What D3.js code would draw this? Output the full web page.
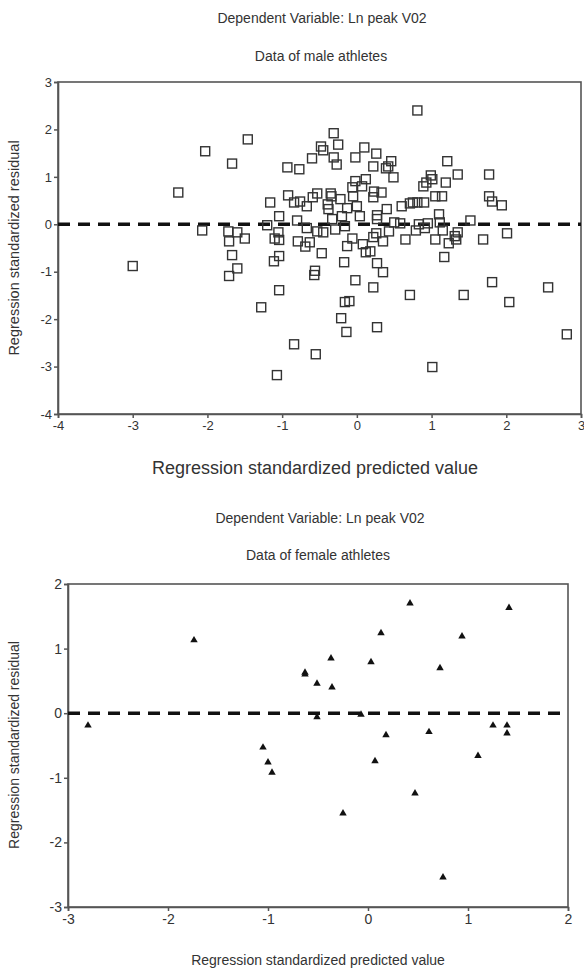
<!DOCTYPE html>
<html><head><meta charset="utf-8">
<script src="https://cdn.jsdelivr.net/npm/d3@7"></script>
<style>body{margin:0;background:#fff}svg{display:block}text{font-family:"Liberation Sans",Arial,sans-serif;fill:#333}</style>
</head><body>
<svg id="c" width="584" height="972"></svg>
<script>
// ---- Data ----
const titleLine1 = "Dependent Variable: Ln peak V02";
const maleTitle = "Data of male athletes";
const femaleTitle = "Data of female athletes";
const xLabel = "Regression standardized predicted value";
const yLabel = "Regression standardized residual";

const maleTicksX = [-4,-3,-2,-1,0,1,2,3];
const maleTicksY = [-4,-3,-2,-1,0,1,2,3];
const femaleTicksX = [-3,-2,-1,0,1,2];
const femaleTicksY = [-3,-2,-1,0,1,2];

const malePredicted = [-3.00,-2.39,-2.03,-2.07,-1.46,-1.67,-0.31,-0.25,-0.48,-0.45,0.10,0.26,-0.60,-0.31,-0.27,-0.02,0.22,-0.93,-0.77,-0.02,
 0.12,-0.06,0.07,-0.92,-1.16,-0.53,-0.35,-0.34,-0.59,-0.76,-0.84,-0.67,-0.39,-0.38,-0.22,-0.05,0.00,-0.13,0.22,0.27,
 0.04,-0.20,-0.33,-1.04,-0.80,-1.20,-1.05,-1.72,-1.60,-1.71,-1.50,-1.10,-1.04,-0.79,-0.67,-0.63,-0.53,-0.45,-0.29,-0.16,
 -0.06,-0.13,0.08,0.22,0.27,-1.67,-1.60,-1.71,-1.04,-1.11,-1.04,-1.28,-0.84,-0.55,-1.07,-0.69,-0.47,-0.56,-0.57,-0.17,
 -0.02,-0.16,-0.10,-0.21,-0.14,0.12,0.27,0.22,0.27,0.18,0.35,0.71,1.17,1.01,1.43,1.81,2.04,2.56,2.81,0.35,
 0.65,1.05,1.23,1.33,1.69,0.81,0.46,0.39,0.42,0.49,1.21,1.35,1.77,0.99,1.01,0.93,0.89,1.19,1.05,1.14,
 0.75,0.81,0.90,0.71,0.60,1.77,1.81,1.94,1.10,1.52,0.40,0.33,0.23,0.50,0.58,0.83,0.95,1.11,0.26,0.43,
 0.79,0.91,1.15,1.31,1.35,2.01];
const maleResidual = [-0.88,0.67,1.54,-0.13,1.79,1.28,1.92,1.68,1.64,1.56,1.62,1.49,1.39,1.41,1.26,1.41,1.22,1.20,1.16,0.91,
 0.95,0.78,0.80,0.61,0.46,0.65,0.65,0.59,0.57,0.48,0.46,0.38,0.42,0.32,0.53,0.59,0.38,0.34,0.57,0.19,
 0.17,0.17,0.11,0.17,0.08,-0.02,-0.17,-0.15,-0.17,-0.36,-0.30,-0.30,-0.33,-0.36,-0.08,-0.38,-0.15,-0.17,-0.11,-0.04,
 -0.30,-0.46,-0.42,-0.27,0.11,-0.65,-0.93,-1.09,-0.67,-0.78,-1.39,-1.75,-2.53,-2.74,-3.18,-0.47,-0.61,-0.98,-1.07,-0.80,
 -1.18,-1.64,-1.62,-1.98,-2.27,-0.59,-0.82,-1.33,-2.17,-0.57,-1.01,-1.49,-0.69,-3.01,-1.49,-1.22,-1.64,-1.33,-2.32,-0.36,
 -0.32,-0.32,-0.40,-0.32,-0.32,2.40,1.33,1.18,1.22,0.99,1.33,1.05,1.05,1.03,0.95,0.88,0.80,0.88,0.59,0.59,
 0.46,0.46,0.46,0.44,0.38,0.59,0.48,0.40,0.21,0.08,0.32,0.67,0.69,0.04,0.02,0.00,0.02,0.04,-0.19,-0.15,
 -0.13,-0.08,-0.13,-0.25,-0.17,-0.19];

const femalePredicted = [-2.80,-1.74,-0.63,-0.63,-1.05,0.42,1.41,0.13,0.94,-0.37,0.03,0.72,-0.51,-0.36,-0.51,-0.07,0.18,0.61,1.25,1.39,1.39,-1.00,-0.96,0.07,1.10,0.47,-0.25,0.75];
const femaleResidual = [-0.19,1.13,0.63,0.60,-0.53,1.70,1.63,1.24,1.19,0.85,0.79,0.70,0.46,0.40,-0.06,-0.02,-0.34,-0.29,-0.19,-0.19,-0.31,-0.76,-0.92,-0.74,-0.66,-1.24,-1.55,-2.54];

// ---- Drawing ----
const svg = d3.select("#c");
const axisColor = "#555";
const FONT = '"Liberation Sans",Arial,sans-serif';

function panel(cfg) {
  const x = d3.scaleLinear().domain(cfg.xDomain).range(cfg.xRange);
  const y = d3.scaleLinear().domain(cfg.yDomain).range(cfg.yRange);
  const g = svg.append("g");
  g.append("rect").attr("x", cfg.xRange[0]).attr("y", cfg.yRange[1])
    .attr("width", cfg.xRange[1]-cfg.xRange[0]).attr("height", cfg.yRange[0]-cfg.yRange[1])
    .attr("fill","none").attr("stroke", axisColor).attr("stroke-width",1.6);
  const ax = g.append("g").attr("transform",`translate(0,${cfg.yRange[0]})`)
    .call(d3.axisBottom(x).tickValues(cfg.xTicks).tickSize(4).tickPadding(3).tickFormat(d3.format("d")));
  const ay = g.append("g").attr("transform",`translate(${cfg.xRange[0]},0)`)
    .call(d3.axisLeft(y).tickValues(cfg.yTicks).tickSize(4).tickPadding(2).tickFormat(d3.format("d")));
  [ax, ay].forEach(a => {
    a.select(".domain").attr("stroke", axisColor).attr("stroke-width",1.6);
    a.selectAll(".tick line").attr("stroke", axisColor).attr("stroke-width",1.5);
    a.selectAll(".tick text").attr("font-size", cfg.tickFont).attr("fill","#333")
      .attr("font-family", FONT)
      .text(d => d < 0 ? "-" + Math.abs(d) : d);
  });
  g.append("line").attr("x1", x(cfg.xDomain[0])).attr("x2", x(cfg.xDomain[1]))
    .attr("y1", y(0)).attr("y2", y(0))
    .attr("stroke","#111").attr("stroke-width",3.5).attr("stroke-dasharray","12,8");
  return {x, y, g};
}

svg.append("text").attr("x",322).attr("y",23).attr("text-anchor","middle").attr("font-size",14).text(titleLine1);
svg.append("text").attr("x",321).attr("y",61).attr("text-anchor","middle").attr("font-size",14).text(maleTitle);

const malePanel = panel({xDomain:[-4,3], yDomain:[-4,3], xRange:[58,581], yRange:[414,82],
  xTicks: maleTicksX, yTicks: maleTicksY, tickFont: 13});
const maleData = malePredicted.map((v,i)=>({x:v, y:maleResidual[i]}));
malePanel.g.append("g").selectAll("rect").data(maleData).join("rect")
  .attr("x", d => malePanel.x(d.x)-4.5).attr("y", d => malePanel.y(d.y)-4.5)
  .attr("width",9).attr("height",9)
  .attr("fill","none").attr("stroke","#333").attr("stroke-width",1.4);

svg.append("text").attr("x",315).attr("y",474).attr("text-anchor","middle").attr("font-size",18).text(xLabel);
svg.append("text").attr("transform","translate(19,248) rotate(-90)").attr("text-anchor","middle").attr("font-size",14.5).text(yLabel);

svg.append("text").attr("x",320).attr("y",523).attr("text-anchor","middle").attr("font-size",14).text(titleLine1);
svg.append("text").attr("x",318).attr("y",560).attr("text-anchor","middle").attr("font-size",14).text(femaleTitle);

const femalePanel = panel({xDomain:[-3,2], yDomain:[-3,2], xRange:[68,568], yRange:[907,584],
  xTicks: femaleTicksX, yTicks: femaleTicksY, tickFont: 14});
const femaleData = femalePredicted.map((v,i)=>({x:v, y:femaleResidual[i]}));
femalePanel.g.append("g").selectAll("path").data(femaleData).join("path")
  .attr("d", d3.symbol().type(d3.symbolTriangle).size(24))
  .attr("transform", d => `translate(${femalePanel.x(d.x)},${femalePanel.y(d.y)})`)
  .attr("fill","#111");

svg.append("text").attr("x",318).attr("y",965).attr("text-anchor","middle").attr("font-size",14).text(xLabel);
svg.append("text").attr("transform","translate(19,745) rotate(-90)").attr("text-anchor","middle").attr("font-size",14).text(yLabel);
</script>
</body></html>
